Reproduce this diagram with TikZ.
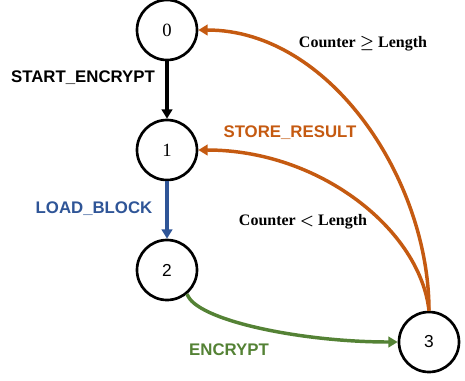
\documentclass[tikz,border=0pt]{standalone}
\usepackage{amsmath}
\usepackage{fontspec}
\setmainfont{Liberation Serif}
\setsansfont{Liberation Sans}
\usetikzlibrary{arrows.meta}
\definecolor{orng}{RGB}{197,90,17}
\definecolor{blu}{RGB}{47,85,151}
\definecolor{grn}{RGB}{84,130,53}
\tikzset{
  state/.style={circle,draw=black,line width=2pt,minimum size=45pt,inner sep=0pt,font=\fontsize{14}{14}\selectfont},
  conn/.style={line width=2.6pt,-{Triangle[length=7pt,width=8pt]}},
  lab/.style={font=\sffamily\bfseries\fontsize{12.6}{13}\selectfont,inner sep=0pt},
  cond/.style={font=\rmfamily\bfseries\fontsize{12}{13}\selectfont,inner sep=0pt}
}
\begin{document}
\begin{tikzpicture}[x=0.75pt,y=-0.75pt]
\useasboundingbox (0,0) rectangle (465,380);
\node[state] (n0) at (167,30) {0};
\node[state] (n1) at (167,150) {1};
\node[state,font=\sffamily\fontsize{13}{13}\selectfont] (n2) at (167,270) {2};
\node[state,font=\sffamily\fontsize{13}{13}\selectfont] (n3) at (429,342) {3};
\draw[conn,black] (n0) -- (n1);
\draw[conn,blu] (n1) -- (n2);
\draw[conn,grn] (n2.-50) .. controls (195,320) and (300,342) .. (n3.west);
\draw[conn,orng] (n3.north) .. controls (429,180) and (330,30) .. (n0.east);
\draw[conn,orng] (n3.north) .. controls (420,230) and (320,150) .. (n1.east);
\node[lab,black] (l01) at (83,78) {START\_ENCRYPT};
\node[lab,blu] (l12) at (94,209) {LOAD\_BLOCK};
\node[lab,orng] (l31) at (290,133) {STORE\_RESULT};
\node[lab,grn] (l23) at (229,350) {ENCRYPT};
\node[cond] (c30) at (363,44) {Counter $\boldsymbol{\geq}$ Length};
\node[cond] (c31) at (303,222) {Counter $\boldsymbol{<}$ Length};
\end{tikzpicture}
\end{document}
